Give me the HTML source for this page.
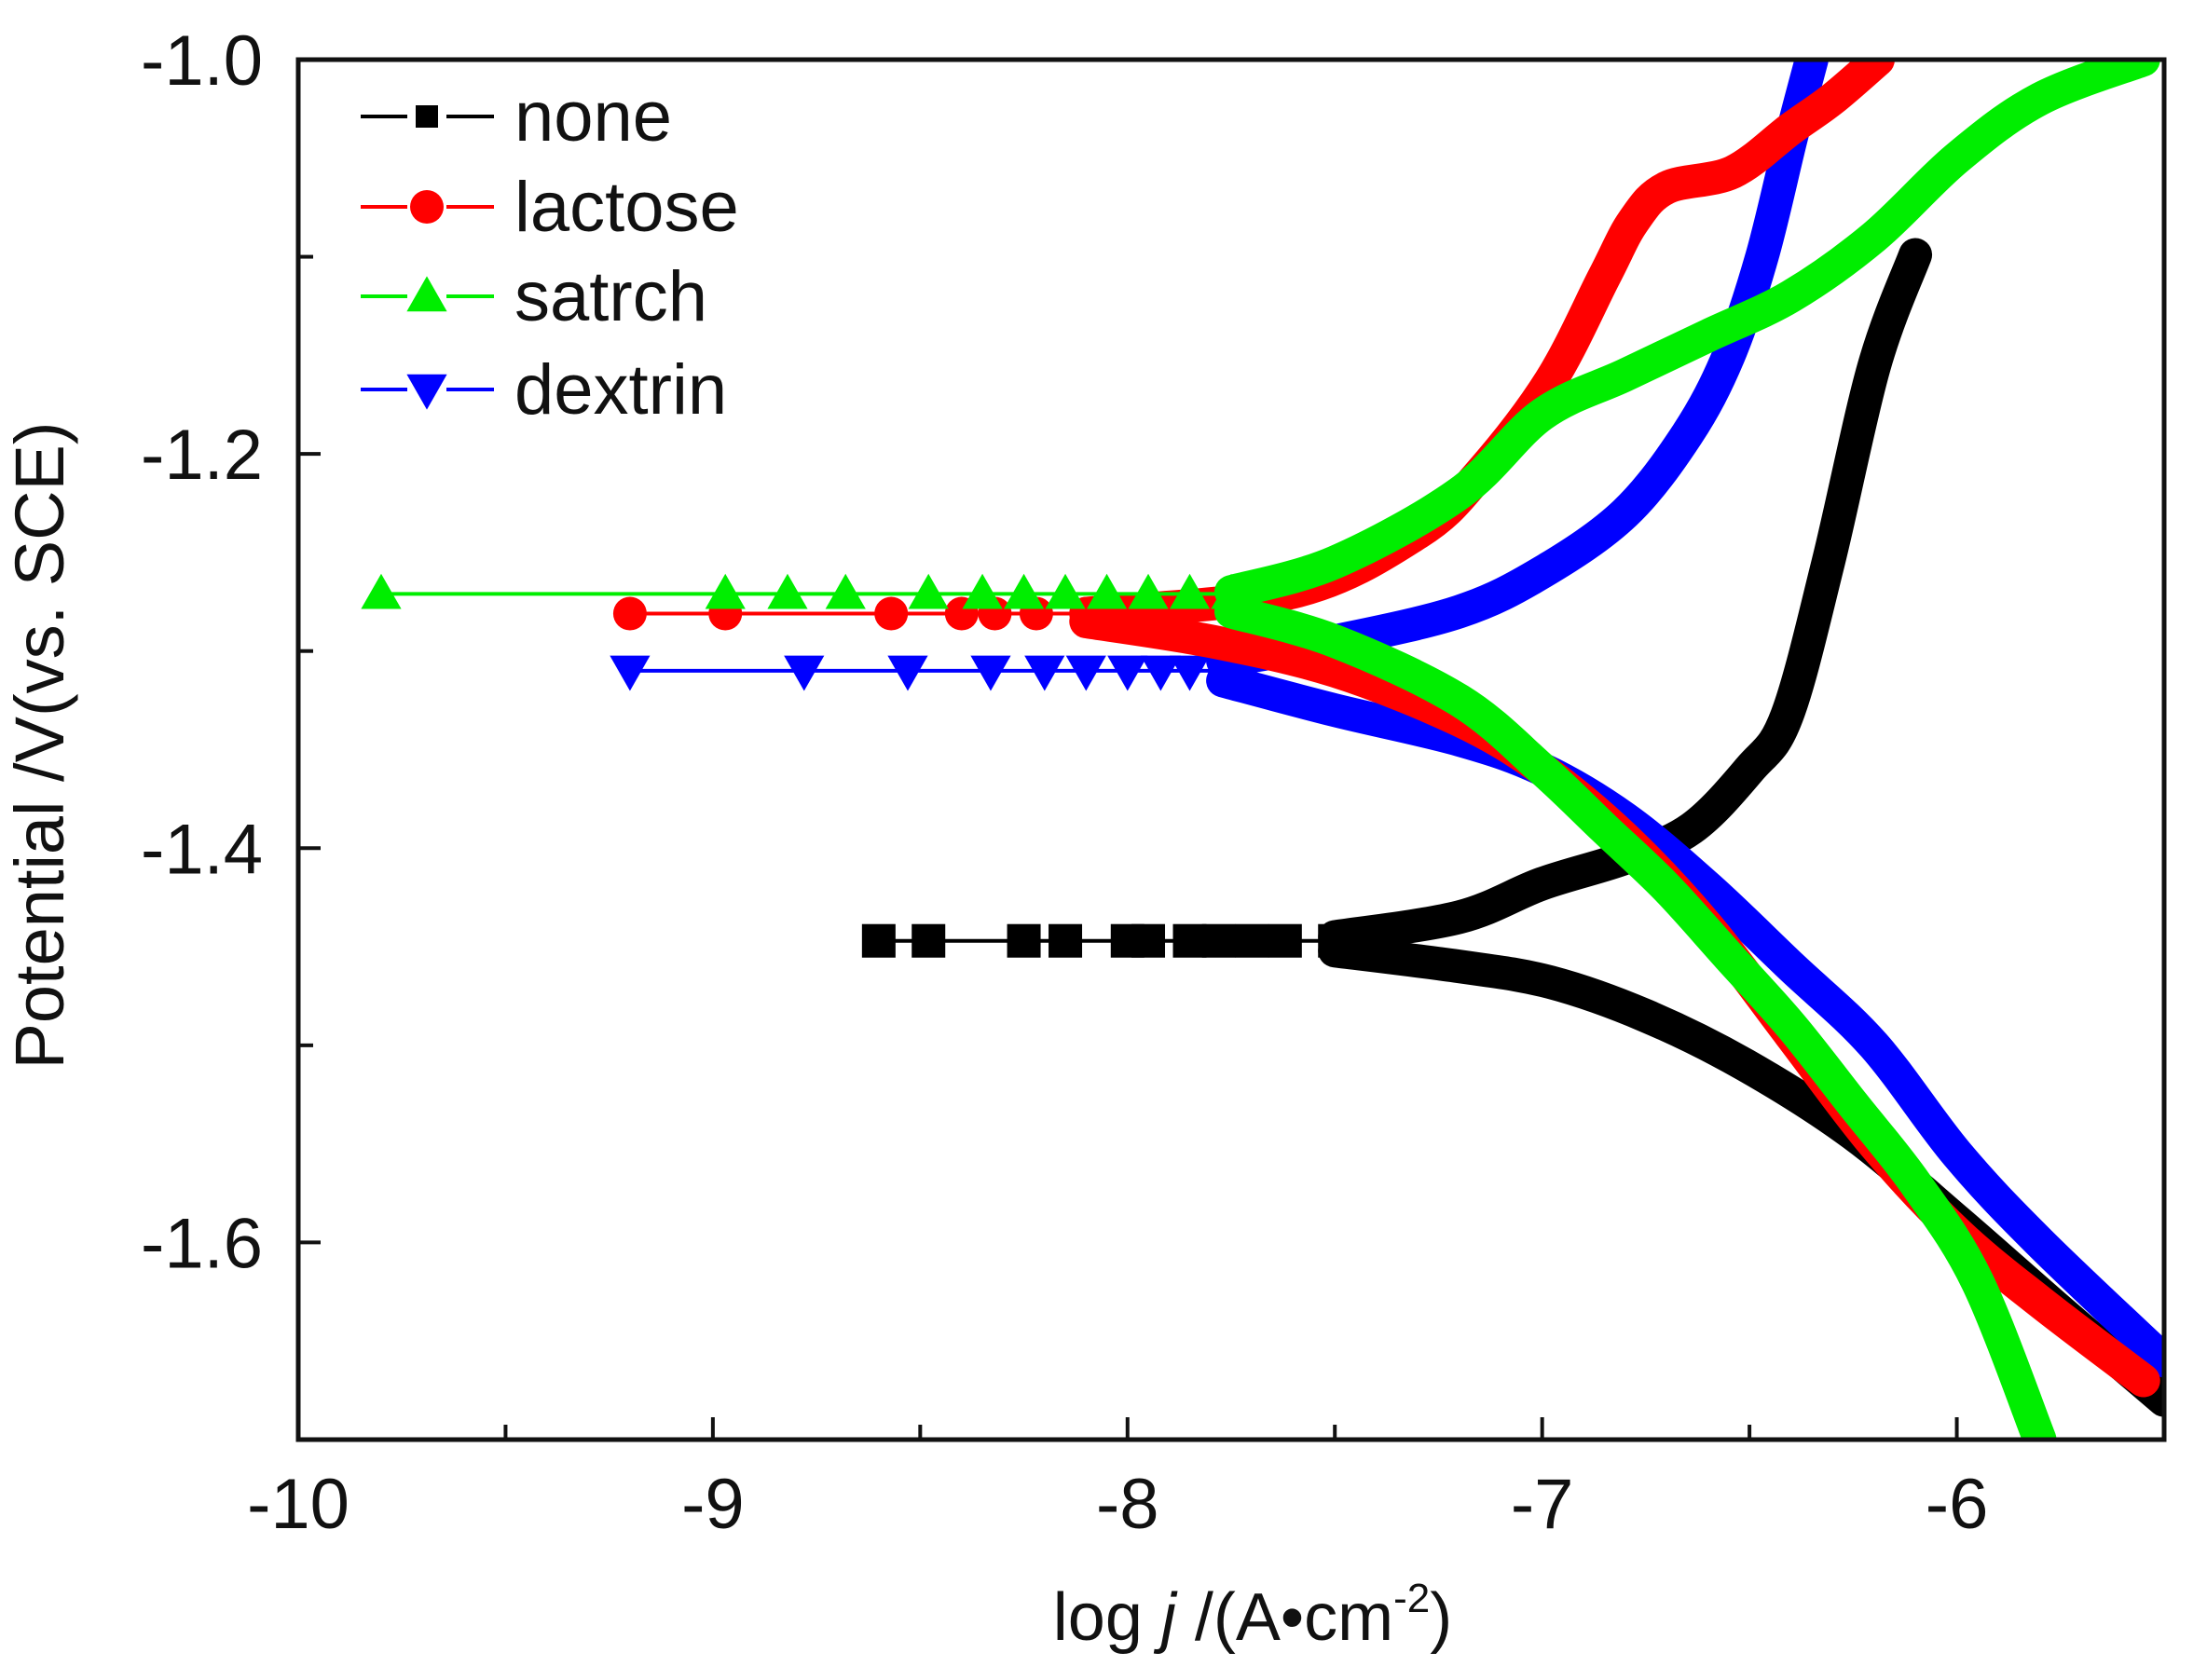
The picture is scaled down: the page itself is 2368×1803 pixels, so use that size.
<!DOCTYPE html>
<html><head><meta charset="utf-8"><style>
html,body{margin:0;padding:0;background:#fff;}
svg{display:block;font-family:"Liberation Sans",Arial,sans-serif;}
</style></head><body>
<svg id="chart" width="2368" height="1803" viewBox="0 0 2368 1803" xmlns="http://www.w3.org/2000/svg">
<g id="plot"></g>
<g id="axes"></g>
<g id="legend"></g>
<text x="1344" y="1760" font-size="72" text-anchor="middle" fill="#111">log <tspan font-style="italic">j</tspan> /(A•cm<tspan font-size="44" dy="-30">-2</tspan><tspan dy="30">)</tspan></text>
<text x="0" y="0" font-size="74" text-anchor="middle" fill="#111" transform="translate(68,800) rotate(-90)">Potential /V(vs. SCE)</text>
</svg>
<script>
// ---- data ----
const seriesNames = ["none","lactose","satrch","dextrin"];
const seriesColors = ["#000000","#ff0000","#00ee00","#0000ff"];
const markerShapes = ["square","circle","triangle-up","triangle-down"];
const ecorr = [-1.447, -1.281, -1.271, -1.310];
const markerX_none = [-8.6,-8.48,-8.25,-8.15,-8.0,-7.95,-7.85,-7.78,-7.7,-7.62,-7.5];
const markerX_lactose = [-9.2,-8.97,-8.57,-8.4,-8.32,-8.22,-8.1];
const markerX_satrch = [-9.8,-8.97,-8.82,-8.68,-8.48,-8.35,-8.25,-8.15,-8.05,-7.95,-7.85,-7.75];
const markerX_dextrin = [-9.2,-8.78,-8.53,-8.33,-8.2,-8.1,-8.0,-7.92,-7.85,-7.77];
const anodicX_none = [-7.5,-7.2,-7.0,-6.8,-6.64,-6.5,-6.41,-6.31,-6.2,-6.1];
const anodicE_none = [-1.445,-1.435,-1.418,-1.405,-1.39,-1.36,-1.333,-1.255,-1.156,-1.099];
const cathX_none = [-7.5,-7.2,-6.98,-6.75,-6.51,-6.25,-6.0,-5.75,-5.5];
const cathE_none = [-1.452,-1.46,-1.468,-1.485,-1.51,-1.545,-1.589,-1.635,-1.68];
const anodicX_lactose = [-8.1,-7.6,-7.3,-7.15,-6.98,-6.85,-6.78,-6.7,-6.54,-6.4,-6.3,-6.19];
const anodicE_lactose = [-1.281,-1.27,-1.24,-1.21,-1.163,-1.11,-1.082,-1.065,-1.057,-1.035,-1.02,-1.0];
const cathX_lactose = [-8.1,-7.8,-7.5,-7.2,-7.0,-6.8,-6.6,-6.4,-6.2,-6.0,-5.8,-5.55];
const cathE_lactose = [-1.285,-1.295,-1.31,-1.335,-1.36,-1.395,-1.44,-1.495,-1.55,-1.595,-1.63,-1.67];
const anodicX_satrch = [-7.75,-7.5,-7.2,-7.0,-6.8,-6.6,-6.4,-6.2,-6.0,-5.8,-5.55];
const anodicE_satrch = [-1.27,-1.255,-1.22,-1.18,-1.16,-1.14,-1.12,-1.09,-1.05,-1.02,-1.0];
const cathX_satrch = [-7.75,-7.5,-7.2,-7.0,-6.85,-6.7,-6.55,-6.4,-6.25,-6.1,-5.95,-5.8];
const cathE_satrch = [-1.28,-1.295,-1.325,-1.36,-1.39,-1.42,-1.455,-1.49,-1.53,-1.57,-1.62,-1.7];
const anodicX_dextrin = [-7.77,-7.5,-7.2,-7.0,-6.8,-6.65,-6.55,-6.47,-6.4,-6.35];
const anodicE_dextrin = [-1.305,-1.295,-1.28,-1.26,-1.23,-1.19,-1.15,-1.1,-1.04,-1.0];
const cathX_dextrin = [-7.77,-7.5,-7.2,-7.0,-6.8,-6.6,-6.4,-6.2,-6.0,-5.8,-5.5];
const cathE_dextrin = [-1.315,-1.33,-1.345,-1.36,-1.385,-1.42,-1.46,-1.5,-1.555,-1.6,-1.66];
const xTicks = [-10,-9,-8,-7,-6];
const yTicks = [-1.0,-1.2,-1.4,-1.6];

// ---- axes ----
const L=320,R=2322,T=64,B=1545;
const xMin=-10,xMax=-5.5,yMin=-1.7,yMax=-1.0;
const sx=v=>L+(v-xMin)/(xMax-xMin)*(R-L);
const sy=v=>B-(v-yMin)/(yMax-yMin)*(B-T);
const NS="http://www.w3.org/2000/svg";
function mk(tag,parent){const e=document.createElementNS(NS,tag);parent.appendChild(e);return e;}
const plot=document.getElementById('plot'),axes=document.getElementById('axes'),legend=document.getElementById('legend');

const clip=mk('clipPath',plot);clip.setAttribute('id','clip');
const cr=mk('rect',clip);cr.setAttribute('x',L);cr.setAttribute('y',T);cr.setAttribute('width',R-L);cr.setAttribute('height',B-T);
const pg=mk('g',plot);pg.setAttribute('clip-path','url(#clip)');

function smoothPath(pts){
  let d='M'+pts[0][0]+','+pts[0][1];
  for(let i=0;i<pts.length-1;i++){
    const p0=pts[Math.max(0,i-1)],p1=pts[i],p2=pts[i+1],p3=pts[Math.min(pts.length-1,i+2)];
    const c1x=p1[0]+(p2[0]-p0[0])/6,c1y=p1[1]+(p2[1]-p0[1])/6;
    const c2x=p2[0]-(p3[0]-p1[0])/6,c2y=p2[1]-(p3[1]-p1[1])/6;
    d+=` C${c1x},${c1y} ${c2x},${c2y} ${p2[0]},${p2[1]}`;
  }
  return d;
}
function marker(parent,shape,cx,cy,s,color){
  let e;
  if(shape==='square'){e=mk('rect',parent);e.setAttribute('x',cx-s/2);e.setAttribute('y',cy-s/2);e.setAttribute('width',s);e.setAttribute('height',s);}
  else if(shape==='circle'){e=mk('circle',parent);e.setAttribute('cx',cx);e.setAttribute('cy',cy);e.setAttribute('r',s/2);}
  else if(shape==='triangle-up'){e=mk('polygon',parent);e.setAttribute('points',`${cx},${cy-s*0.6} ${cx-s*0.6},${cy+s*0.45} ${cx+s*0.6},${cy+s*0.45}`);}
  else {e=mk('polygon',parent);e.setAttribute('points',`${cx},${cy+s*0.6} ${cx-s*0.6},${cy-s*0.45} ${cx+s*0.6},${cy-s*0.45}`);}
  e.setAttribute('fill',color);
  return e;
}
const markersBy=[markerX_none,markerX_lactose,markerX_satrch,markerX_dextrin];
const aX=[anodicX_none,anodicX_lactose,anodicX_satrch,anodicX_dextrin];
const aE=[anodicE_none,anodicE_lactose,anodicE_satrch,anodicE_dextrin];
const cX=[cathX_none,cathX_lactose,cathX_satrch,cathX_dextrin];
const cE=[cathE_none,cathE_lactose,cathE_satrch,cathE_dextrin];
const order=[0,3,1,2];
order.forEach(i=>{
  const g=mk('g',pg);
  
  
  const mx=markersBy[i];
  const thin=mk('line',g);
  
  
  thin.setAttribute('x1',sx(mx[0]));thin.setAttribute('x2',sx(aX[i][0]));
  thin.setAttribute('y1',sy(ecorr[i]));thin.setAttribute('y2',sy(ecorr[i]));
  thin.setAttribute('stroke',seriesColors[i]);thin.setAttribute('stroke-width',4);
  [[aX[i],aE[i],'anodic'],[cX[i],cE[i],'cathodic']].forEach(([xs,es,nm])=>{
    const p=mk('path',g);
    
    
    p.setAttribute('d',smoothPath(xs.map((x,k)=>[sx(x),sy(es[k])])));
    p.setAttribute('fill','none');p.setAttribute('stroke',seriesColors[i]);
    p.setAttribute('stroke-width',36);p.setAttribute('stroke-linejoin','round');p.setAttribute('stroke-linecap','round');
  });
  mx.forEach(x=>{
    const m=marker(g,markerShapes[i],sx(x),sy(ecorr[i]),36,seriesColors[i]);
    
    
  });
});

// frame
const fr=mk('rect',axes);


fr.setAttribute('x',L);fr.setAttribute('y',T);fr.setAttribute('width',R-L);fr.setAttribute('height',B-T);
fr.setAttribute('fill','none');fr.setAttribute('stroke','#111');fr.setAttribute('stroke-width',5);
for(let v=-10;v<=-5.5;v+=0.5){
  const t=mk('line',axes);
  
  
  const major=Number.isInteger(v);
  t.setAttribute('x1',sx(v));t.setAttribute('x2',sx(v));t.setAttribute('y1',B);t.setAttribute('y2',B-(major?24:16));
  t.setAttribute('stroke','#111');t.setAttribute('stroke-width',4);
}
xTicks.forEach(v=>{
  const t=mk('text',axes);
  
  
  t.setAttribute('x',sx(v));t.setAttribute('y',1640);t.setAttribute('font-size',76);t.setAttribute('text-anchor','middle');t.setAttribute('fill','#111');
  t.textContent=String(v);
});
for(let k=0;k<=7;k++){
  const v=-1.0-k*0.1;
  const t=mk('line',axes);
  
  
  const major=k%2===0;
  t.setAttribute('x1',L);t.setAttribute('x2',L+(major?24:16));t.setAttribute('y1',sy(v));t.setAttribute('y2',sy(v));
  t.setAttribute('stroke','#111');t.setAttribute('stroke-width',4);
}
yTicks.forEach(v=>{
  const t=mk('text',axes);
  
  
  t.setAttribute('x',282);t.setAttribute('y',sy(v)+27);t.setAttribute('font-size',76);t.setAttribute('text-anchor','end');t.setAttribute('fill','#111');
  t.textContent=v.toFixed(1);
});

// legend
const legY=[125,222,318,418];
seriesNames.forEach((n,i)=>{
  const g=mk('g',legend);
  
  
  const l=mk('line',g);
  l.setAttribute('x1',387);l.setAttribute('x2',530);l.setAttribute('y1',legY[i]);l.setAttribute('y2',legY[i]);
  l.setAttribute('stroke',seriesColors[i]);l.setAttribute('stroke-width',4);
  const w=mk('rect',g);w.setAttribute('x',437);w.setAttribute('y',legY[i]-25);w.setAttribute('width',42);w.setAttribute('height',50);w.setAttribute('fill','#fff');
  marker(g,markerShapes[i],458,legY[i],i===0?24:36,seriesColors[i]);
  const t=mk('text',g);
  t.setAttribute('x',552);t.setAttribute('y',legY[i]+26);t.setAttribute('font-size',76);t.setAttribute('fill','#111');
  t.textContent=n;
});
</script>
</body></html>
